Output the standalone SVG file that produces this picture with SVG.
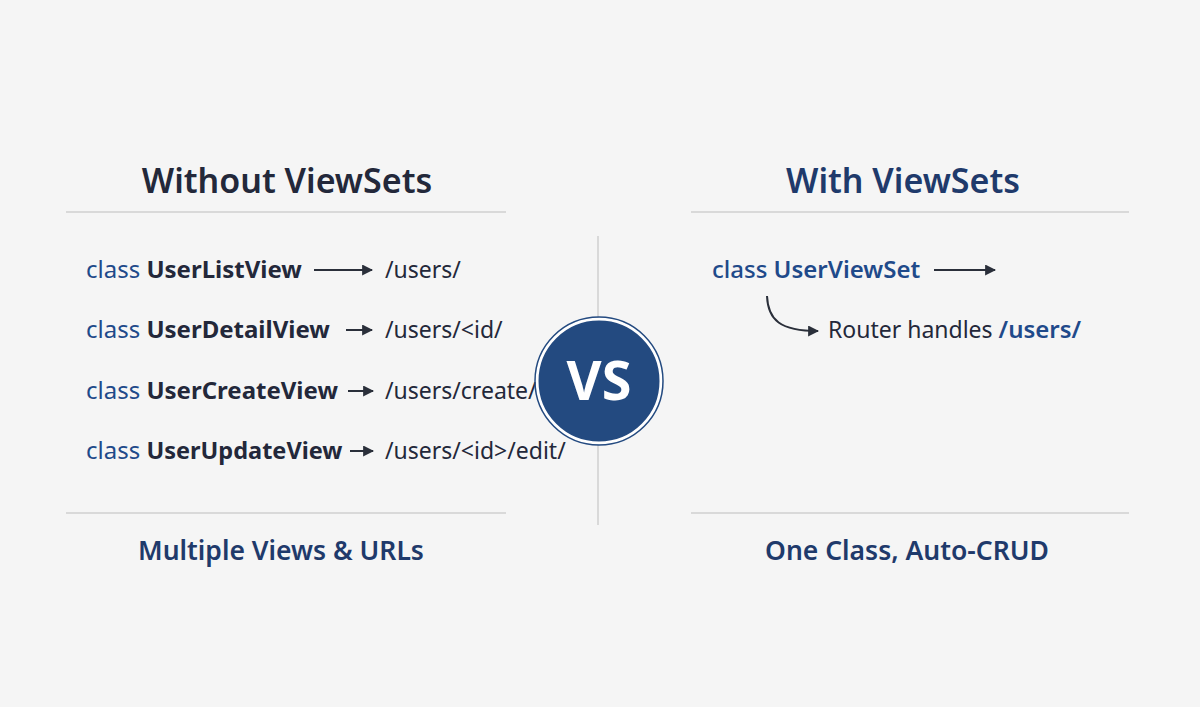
<svg xmlns="http://www.w3.org/2000/svg" width="1200" height="707" viewBox="0 0 1200 707">
<defs>
<marker id="ah" viewBox="0 0 10 10" refX="9" refY="5" markerWidth="11" markerHeight="11" markerUnits="userSpaceOnUse" orient="auto"><path d="M0,0 L10,5 L0,10 Z" fill="#2a2f3a"/></marker>
<style>
text{font-family:"Noto Sans","Open Sans",sans-serif}
.t{font-size:34px;font-weight:600;fill:#23283a}
.tb{font-size:34px;font-weight:600;fill:#1f3a6b}
.k{font-size:24px;fill:#1f4a8a}
.c{font-size:24px;font-weight:700;fill:#23283a}
.u{font-size:23px;fill:#23283a}
.f{font-size:26.5px;font-weight:600;fill:#1f3a6b}
.hr{stroke:#cfcfcf;stroke-width:1.5}
.ar{stroke:#2a2f3a;stroke-width:2;fill:none;marker-end:url(#ah)}
</style>
</defs>
<rect width="1200" height="707" fill="#f5f5f5"/>
<g id="left">
<text class="t" x="287" y="193" text-anchor="middle">Without ViewSets</text>
<line class="hr" x1="66" y1="212" x2="506" y2="212"/>
<text x="86" y="278"><tspan class="k">class </tspan><tspan class="c">UserListView</tspan></text>
<text class="u" x="385" y="278">/users/</text>
<text x="86" y="338"><tspan class="k">class </tspan><tspan class="c">UserDetailView</tspan></text>
<text class="u" x="385" y="338">/users/&lt;id/</text>
<text x="86" y="399"><tspan class="k">class </tspan><tspan class="c">UserCreateView</tspan></text>
<text class="u" x="385" y="399">/users/create/</text>
<text x="86" y="459"><tspan class="k">class </tspan><tspan class="c" textLength="196" lengthAdjust="spacingAndGlyphs">UserUpdateView</tspan></text>
<text class="u" x="385" y="459">/users/&lt;id&gt;/edit/</text>
<line class="hr" x1="66" y1="513" x2="506" y2="513"/>
<text class="f" x="281" y="560" text-anchor="middle">Multiple Views &amp; URLs</text>
</g>
<line class="hr" x1="598" y1="236" x2="598" y2="525"/>
<g id="right">
<text class="tb" x="903" y="193" text-anchor="middle">With ViewSets</text>
<line class="hr" x1="691" y1="212" x2="1129" y2="212"/>
<text x="712" y="278"><tspan class="k" font-size="25.3" font-weight="500">class </tspan><tspan class="k" font-size="25.3" font-weight="600">UserViewSet</tspan></text>
<text x="828" y="338"><tspan class="u" font-size="24">Router handles </tspan><tspan class="k" font-weight="600">/users/</tspan></text>
<line class="hr" x1="691" y1="513" x2="1129" y2="513"/>
<text class="f" x="907" y="560" text-anchor="middle" font-size="27">One Class, Auto-CRUD</text>
</g>
<g id="vs">
<circle cx="599" cy="381" r="62" fill="#234a80" stroke="#ffffff" stroke-width="3"/>
<circle cx="599" cy="381" r="64" fill="none" stroke="#234a80" stroke-width="1.5"/>
<text x="599" y="400" text-anchor="middle" font-size="54" font-weight="700" fill="#ffffff">VS</text>
</g>
<g id="connectors">
<path class="ar" d="M314,270 H372"/>
<path class="ar" d="M346,330 H372"/>
<path class="ar" d="M348,391 H373"/>
<path class="ar" d="M350,451 H373"/>
<path class="ar" d="M934,270 H995"/>
<path class="ar" d="M767,296 C768,320 780,331 818,331"/>
</g>
</svg>
